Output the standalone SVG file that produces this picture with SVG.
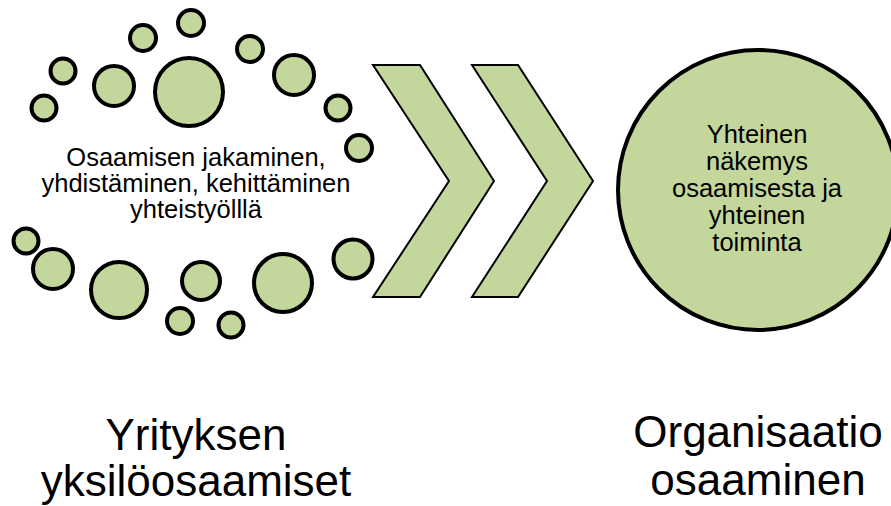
<svg xmlns="http://www.w3.org/2000/svg" width="891" height="506" viewBox="0 0 891 506">
<style>
.dot{fill:#c3d69b;stroke:#000;stroke-width:4}
.chev{fill:#c3d69b;stroke:#000;stroke-width:2;stroke-linejoin:miter}
.big{fill:#c3d69b;stroke:#000;stroke-width:4}
text{font-family:"Liberation Sans",Arial,sans-serif;fill:#000;text-anchor:middle}
.t1{font-size:25.5px}
.t2{font-size:44px}
</style>
<rect width="891" height="506" fill="#fff"/>
<g id="individuals">
<circle class="dot" cx="63" cy="71" r="12.5"/>
<circle class="dot" cx="44" cy="108" r="12.5"/>
<circle class="dot" cx="114" cy="86" r="20"/>
<circle class="dot" cx="189" cy="92" r="34"/>
<circle class="dot" cx="143" cy="38" r="13"/>
<circle class="dot" cx="191" cy="23" r="13"/>
<circle class="dot" cx="250" cy="49" r="13"/>
<circle class="dot" cx="294" cy="75" r="20"/>
<circle class="dot" cx="338" cy="108" r="12.5"/>
<circle class="dot" cx="359" cy="148" r="13"/>
<circle class="dot" cx="26" cy="241" r="12.5"/>
<circle class="dot" cx="53" cy="269" r="20"/>
<circle class="dot" cx="119" cy="290" r="28"/>
<circle class="dot" cx="201" cy="281" r="19"/>
<circle class="dot" cx="180" cy="321" r="13"/>
<circle class="dot" cx="231" cy="325" r="12.5"/>
<circle class="dot" cx="283" cy="283" r="29"/>
<circle class="dot" cx="353" cy="259" r="19.5"/>
<text class="t1"><tspan x="196" y="166">Osaamisen jakaminen,</tspan><tspan x="196" y="192">yhdistäminen, kehittäminen</tspan><tspan x="196" y="218">yhteistyölllä</tspan></text>
</g>
<g id="connectors">
<polygon class="chev" points="373,65 420,65 494,181 420,297 373,297 449,181"/>
<polygon class="chev" points="472,65 518,65 593,181 518,297 472,297 547,181"/>
</g>
<g id="organisation">
<circle class="big" cx="758" cy="190" r="140"/>
<text class="t1"><tspan x="757" y="143">Yhteinen</tspan><tspan x="757" y="170">näkemys</tspan><tspan x="757" y="197">osaamisesta ja</tspan><tspan x="757" y="224">yhteinen</tspan><tspan x="757" y="251">toiminta</tspan></text>
</g>
<g id="label-left">
<text class="t2"><tspan x="196" y="450">Yrityksen</tspan><tspan x="196" y="496">yksilöosaamiset</tspan></text>
</g>
<g id="label-right">
<text class="t2"><tspan x="758" y="447">Organisaatio</tspan><tspan x="758" y="495">osaaminen</tspan></text>
</g>
</svg>
